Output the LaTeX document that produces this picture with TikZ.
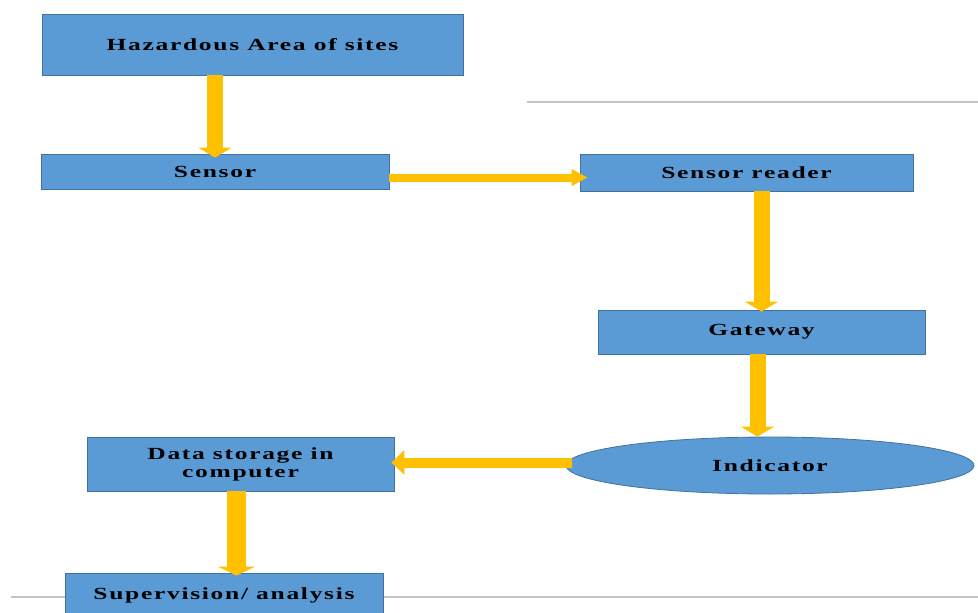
\documentclass[tikz,border=0pt]{standalone}
\usepackage{fontspec}
\setmainfont{Liberation Serif}
\newfontfamily\boxfont[FakeStretch=1.5,LetterSpace=10]{Liberation Serif}
\usetikzlibrary{arrows.meta,shapes.geometric}
\definecolor{boxblue}{HTML}{5B9BD5}
\definecolor{boxedge}{HTML}{41719C}
\definecolor{arrowgold}{HTML}{FFC000}
\definecolor{rulegray}{HTML}{C4C4C4}
\tikzset{
    block/.style={draw=boxedge, fill=boxblue, line width=0.8pt, inner sep=0pt, align=center,
        font=\boxfont\bfseries\fontsize{17}{18}\selectfont},
    bigarrow/.style={draw=arrowgold, line width=16pt, -{Triangle[width=33pt,length=10pt]}},
    thinarrow/.style={draw=arrowgold, line width=8pt, -{Triangle[width=16pt,length=16pt]}}
}
\begin{document}
\begin{tikzpicture}[x=1pt, y=-1pt]
    \clip (0, 0) rectangle (978, 613);
    \draw[rulegray, line width=1.2pt] (527, 102) -- (978, 102);
    \draw[rulegray, line width=1.2pt] (11, 597) -- (978, 597);
    \node[block, minimum width=421pt, minimum height=61pt] (hazard) at (252.5, 44.5) {Hazardous Area of sites};
    \node[block, minimum width=348pt, minimum height=35pt] (sensor) at (215, 171.5) {Sensor};
    \node[block, minimum width=333pt, minimum height=37pt] (reader) at (746.5, 172.5) {Sensor reader};
    \node[block, minimum width=327pt, minimum height=44pt] (gateway) at (761.5, 332) {Gateway};
    \node[block, ellipse, minimum width=408pt, minimum height=57pt] (indicator) at (770, 465.5) {Indicator};
    \node[block, minimum width=307pt, minimum height=54pt] (storage) at (240.5, 464) {Data storage in\\computer};
    \node[block, minimum width=318pt, minimum height=45pt] (supervision) at (224, 595.5) {Supervision/ analysis};
    \draw[bigarrow, shorten >=-4pt] (sensor.north |- hazard.south) -- (sensor.north);
    \draw[thinarrow, shorten >=-8pt] ([yshift=-6pt]sensor.east) -- ([yshift=-6pt]sensor.east -| reader.west);
    \draw[bigarrow, shorten >=-2pt] (reader.south -| gateway.north) -- (gateway.north);
    \draw[bigarrow] ([xshift=-4pt]gateway.south) -- ([xshift=-4pt]gateway.south |- indicator.north);
    \draw[draw=arrowgold, line width=10pt, -{Triangle[width=24pt,length=13pt]}, shorten >=-3pt] ([xshift=6pt, yshift=3pt]indicator.west) -- ([yshift=3pt]indicator.west -| storage.east);
    \draw[bigarrow, line width=19pt, -{Triangle[width=37pt,length=9pt]}, shorten >=-3pt] ([xshift=-4pt]storage.south) -- ([xshift=-4pt]storage.south |- supervision.north);
\end{tikzpicture}
\end{document}
